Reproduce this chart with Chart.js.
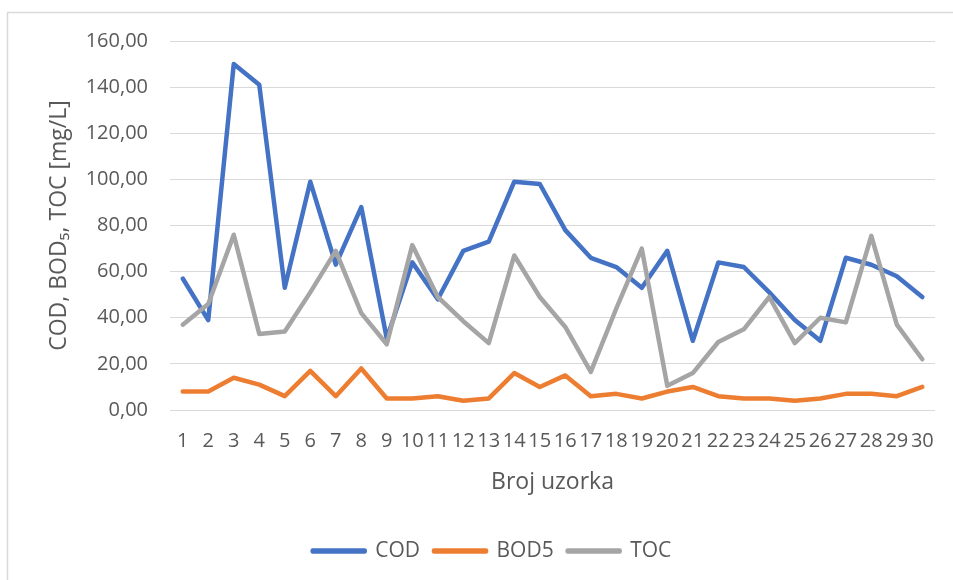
<!DOCTYPE html>
<html>
<head>
<meta charset="utf-8">
<script src="https://cdn.jsdelivr.net/npm/chart.js@4/dist/chart.umd.min.js"></script>
<style>
html,body{margin:0;padding:0;background:#fff;}
#wrap{position:relative;width:953px;height:580px;}
</style>
</head>
<body>
<div id="wrap"><canvas id="c" width="953" height="580"></canvas></div>
<script>
const categories = ["1","2","3","4","5","6","7","8","9","10","11","12","13","14","15","16","17","18","19","20","21","22","23","24","25","26","27","28","29","30"];
const codValues  = [57, 39, 150, 141, 53, 99, 63, 88, 31, 64, 48, 69, 73, 99, 98, 78, 66, 62, 53, 69, 30, 64, 62, 51, 39, 30, 66, 63, 58, 49];
const bod5Values = [8, 8, 14, 11, 6, 17, 6, 18, 5, 5, 6, 4, 5, 16, 10, 15, 6, 7, 5, 8, 10, 6, 5, 5, 4, 5, 7, 7, 6, 10];
const tocValues  = [37, 46, 76, 33, 34, 51, 69, 42, 28.5, 71.5, 49, 38.5, 29, 67, 49, 36, 16.5, 44, 70, 10.5, 16, 29.5, 35, 49, 29, 40, 38, 75.5, 37, 22];
const seriesNames = ["COD", "BOD5", "TOC"];
const yTitle = "COD, BOD\u2085, TOC [mg/L]";
const xTitle = "Broj uzorka";

const FONT = "'Open Sans', 'DejaVu Sans', sans-serif";
const TXT = "#595959";

const frame = {
  id: 'frame',
  beforeDraw(chart) {
    const ctx = chart.ctx;
    ctx.save();
    ctx.strokeStyle = '#d9d9d9';
    ctx.lineWidth = 1.5;
    ctx.beginPath();
    ctx.moveTo(7.5, 580);
    ctx.lineTo(7.5, 12.5);
    ctx.lineTo(953, 12.5);
    ctx.stroke();
    ctx.restore();
  },
  afterLayout(chart) {
    const lg = chart.legend;
    if (lg) { lg.left += 23; lg.right += 23; }
  }
};

function ds(label, data, color, order) {
  return {
    label, data, order,
    borderColor: color, backgroundColor: color,
    borderWidth: 4.5, pointRadius: 0, pointHoverRadius: 0,
    tension: 0, fill: false,
    borderCapStyle: 'round', borderJoinStyle: 'round'
  };
}

new Chart(document.getElementById('c'), {
  type: 'line',
  data: {
    labels: categories,
    datasets: [
      ds(seriesNames[0], codValues, '#4472C4', 2),
      ds(seriesNames[1], bod5Values, '#ED7D31', 1),
      ds(seriesNames[2], tocValues, '#A5A5A5', 0)
    ]
  },
  options: {
    responsive: false,
    animation: false,
    devicePixelRatio: 1,
    layout: { padding: { left: 0, top: 41, right: 15, bottom: 8.5 } },
    plugins: {
      tooltip: { enabled: false },
      legend: {
        position: 'bottom',
        labels: {
          boxWidth: 52, boxHeight: 1, padding: 14,
          color: TXT, font: { family: FONT, size: 21 },
          sort: (a, b) => a.datasetIndex - b.datasetIndex
        }
      }
    },
    scales: {
      x: {
        offset: true,
        grid: { display: false, drawTicks: false },
        border: { display: false },
        ticks: { autoSkip: false, maxRotation: 0, minRotation: 0, padding: 19, color: TXT, font: { family: FONT, size: 20 } },
        title: { display: true, text: xTitle, color: TXT, font: { family: FONT, size: 23 }, padding: { top: 0, bottom: 30.7 } },
        afterFit: s => { s.height = 116.5; }
      },
      y: {
        min: 0, max: 160,
        grid: { color: '#d9d9d9', lineWidth: 1, drawTicks: false },
        border: { display: false },
        ticks: { stepSize: 20, padding: 22, color: TXT, font: { family: FONT, size: 20 },
          callback: v => Number(v).toFixed(2).replace('.', ',') },
        title: { display: true, text: yTitle, color: TXT, font: { family: FONT, size: 23 }, padding: { top: 46, bottom: 0 } },
        afterFit: s => { s.width = 170; }
      }
    }
  },
  plugins: [frame]
});
</script>
</body>
</html>
